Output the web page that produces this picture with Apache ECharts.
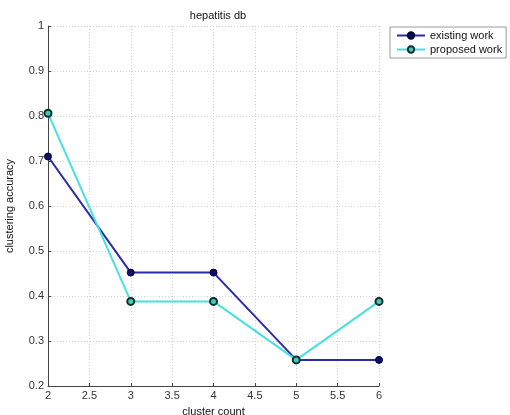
<!DOCTYPE html>
<html><head><meta charset="utf-8">
<script src="https://cdn.jsdelivr.net/npm/echarts@6/dist/echarts.min.js"></script>
<style>html,body{margin:0;padding:0;background:#fff}#c{width:510px;height:415px}</style>
</head><body><div id="c"></div>
<script>
const clusterCounts = [2, 3, 4, 5, 6];
const existingWork = [0.71, 0.452, 0.452, 0.258, 0.258];
const proposedWork = [0.806, 0.388, 0.388, 0.258, 0.388];
const xTicks = [2, 2.5, 3, 3.5, 4, 4.5, 5, 5.5, 6];
const yTicks = [0.2, 0.3, 0.4, 0.5, 0.6, 0.7, 0.8, 0.9, 1];

const font = 'Liberation Sans, Arial, sans-serif';
const chart = echarts.init(document.getElementById('c'));
chart.setOption({
  animation: false,
  backgroundColor: '#fff',
  title: { text: 'hepatitis db', left: 213, top: 5, textAlign: 'center',
    textStyle: { fontFamily: font, fontSize: 11, fontWeight: 'normal', color: '#111' } },
  legend: {
    orient: 'vertical', left: 390, top: 27, itemGap: 3, itemWidth: 28, itemHeight: 8,
    padding: [3, 4, 3, 6], borderColor: '#999', borderWidth: 1, backgroundColor: '#fff',
    textStyle: { fontFamily: font, fontSize: 11, color: '#111' },
    data: ['existing work', 'proposed work']
  },
  grid: { left: 48, right: 131, top: 26, bottom: 29, containLabel: false, outerBoundsMode: 'none' },
  xAxis: {
    type: 'value', min: 2, max: 6, interval: 0.5,
    name: 'cluster count', nameLocation: 'middle', nameGap: 20,
    nameTextStyle: { fontFamily: font, fontSize: 11, color: '#111' },
    axisLine: { lineStyle: { color: '#444' } },
    axisTick: { inside: true, length: 3, lineStyle: { color: '#444' } },
    axisLabel: { fontFamily: font, fontSize: 11, color: '#333', margin: 4,
      formatter: v => xTicks.includes(v) ? String(v) : '' },
    splitLine: { show: true, lineStyle: { color: '#d4d4d4', type: [1, 2] } }
  },
  yAxis: {
    type: 'value', min: 0.2, max: 1, interval: 0.1,
    name: 'clustering accuracy', nameLocation: 'middle', nameGap: 33,
    nameTextStyle: { fontFamily: font, fontSize: 11, color: '#111' },
    axisLine: { show: true, lineStyle: { color: '#444' } },
    axisTick: { show: true, inside: true, length: 3, lineStyle: { color: '#444' } },
    axisLabel: { fontFamily: font, fontSize: 11, color: '#333', margin: 4,
      formatter: v => { const r = Math.round(v * 10) / 10; return yTicks.includes(r) ? String(r) : ''; } },
    splitLine: { show: true, lineStyle: { color: '#d4d4d4', type: [1, 2] } }
  },
  series: [
    { name: 'existing work', type: 'line',
      data: clusterCounts.map((x, i) => [x, existingWork[i]]),
      symbol: 'circle', symbolSize: 7,
      lineStyle: { color: '#2b2ba8', width: 2 },
      itemStyle: { color: '#0d0d6e', borderColor: '#050530', borderWidth: 1 } },
    { name: 'proposed work', type: 'line',
      data: clusterCounts.map((x, i) => [x, proposedWork[i]]),
      symbol: 'circle', symbolSize: 7,
      lineStyle: { color: '#48e0e0', width: 2 },
      itemStyle: { color: '#48c8b8', borderColor: '#0b2f2f', borderWidth: 2 } }
  ]
});
</script></body></html>
